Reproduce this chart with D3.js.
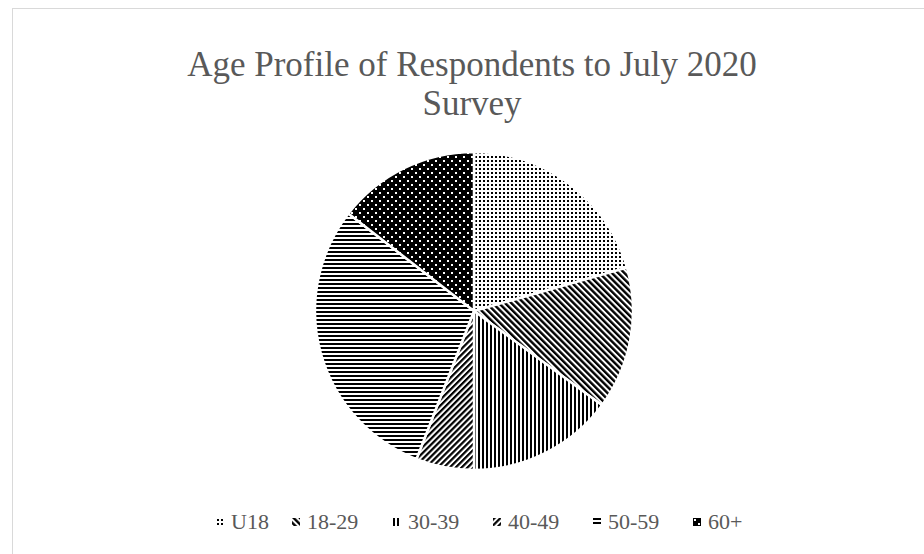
<!DOCTYPE html>
<html>
<head>
<meta charset="utf-8">
<script src="https://cdn.jsdelivr.net/npm/d3@7"></script>
<style>
  html, body { margin: 0; padding: 0; background: #fff; }
  svg { display: block; }
</style>
</head>
<body>
<svg id="chart" width="924" height="554"></svg>
<script>
// Age bands and their share of respondents (%)
const categories = ["U18", "18-29", "30-39", "40-49", "50-59", "60+"];
const shares = [20.6, 14.5, 14.9, 5.9, 29.6, 14.5];
const patternIds = ["pDots", "pDiagDown", "pVert", "pDiagUp", "pHoriz", "pDarkDots"];
const titleLines = ["Age Profile of Respondents to July 2020", "Survey"];

const svg = d3.select("#chart");

// ---- fill patterns (monochrome hatches) ----
const defs = svg.append("defs");

// fine dot grid
let p = defs.append("pattern").attr("id", "pDots").attr("patternUnits", "userSpaceOnUse")
  .attr("width", 4).attr("height", 4);
p.append("rect").attr("width", 4).attr("height", 4).attr("fill", "#fff");
p.append("rect").attr("x", 1).attr("y", 1).attr("width", 2).attr("height", 2).attr("fill", "#000");

// wide downward diagonal
p = defs.append("pattern").attr("id", "pDiagDown").attr("patternUnits", "userSpaceOnUse")
  .attr("width", 4.4).attr("height", 10).attr("patternTransform", "rotate(-45)");
p.append("rect").attr("width", 4.4).attr("height", 10).attr("fill", "#fff");
p.append("rect").attr("width", 2.4).attr("height", 10).attr("fill", "#000");

// vertical lines
p = defs.append("pattern").attr("id", "pVert").attr("patternUnits", "userSpaceOnUse")
  .attr("width", 4).attr("height", 4);
p.append("rect").attr("width", 4).attr("height", 4).attr("fill", "#fff");
p.append("rect").attr("width", 2).attr("height", 4).attr("fill", "#000");

// upward diagonal
p = defs.append("pattern").attr("id", "pDiagUp").attr("patternUnits", "userSpaceOnUse")
  .attr("width", 4.2).attr("height", 10).attr("patternTransform", "rotate(45)");
p.append("rect").attr("width", 4.2).attr("height", 10).attr("fill", "#fff");
p.append("rect").attr("width", 2.2).attr("height", 10).attr("fill", "#000");

// horizontal lines
p = defs.append("pattern").attr("id", "pHoriz").attr("patternUnits", "userSpaceOnUse")
  .attr("width", 4).attr("height", 4);
p.append("rect").attr("width", 4).attr("height", 4).attr("fill", "#fff");
p.append("rect").attr("width", 4).attr("height", 2).attr("fill", "#000");

// white dots on black
p = defs.append("pattern").attr("id", "pDarkDots").attr("patternUnits", "userSpaceOnUse")
  .attr("width", 8).attr("height", 8);
p.append("rect").attr("width", 8).attr("height", 8).attr("fill", "#000");
p.append("rect").attr("x", 1).attr("y", 1).attr("width", 2).attr("height", 2).attr("fill", "#fff");
p.append("rect").attr("x", 5).attr("y", 5).attr("width", 2).attr("height", 2).attr("fill", "#fff");

// ---- chart frame ----
svg.append("rect").attr("x", 12.5).attr("y", 8.5).attr("width", 920).attr("height", 560)
  .attr("fill", "#fff").attr("stroke", "#d9d9d9").attr("stroke-width", 1);

// ---- title ----
const title = svg.append("text").attr("text-anchor", "middle")
  .attr("font-family", "'Liberation Serif', serif").attr("font-size", 35)
  .attr("fill", "#595959");
titleLines.forEach((t, i) => {
  title.append("tspan").attr("x", 472).attr("y", 76 + i * 39).text(t);
});

// ---- pie ----
const cx = 474, cy = 311, R = 159;
const pie = d3.pie().sort(null).value(d => d.v);
const arc = d3.arc().innerRadius(0).outerRadius(R);
const data = categories.map((c, i) => ({ c, v: shares[i], pat: patternIds[i] }));

svg.append("g").attr("transform", `translate(${cx},${cy})`)
  .selectAll("path").data(pie(data)).join("path")
  .attr("d", arc)
  .attr("fill", d => `url(#${d.data.pat})`)
  .attr("stroke", "#fff").attr("stroke-width", 2.5).attr("stroke-linejoin", "round");

// ---- legend ----
const legendX = [216, 292, 393, 493, 593, 693];
const legend = svg.append("g");
data.forEach((d, i) => {
  const g = legend.append("g").attr("transform", `translate(${legendX[i]},518)`);
  g.append("rect").attr("x", 0).attr("y", 0).attr("width", 8).attr("height", 8)
    .attr("fill", `url(#${d.pat})`);
  g.append("text").attr("x", 15).attr("y", 11)
    .attr("font-family", "'Liberation Serif', serif").attr("font-size", 22)
    .attr("fill", "#595959").text(d.c);
});
</script>
</body>
</html>
